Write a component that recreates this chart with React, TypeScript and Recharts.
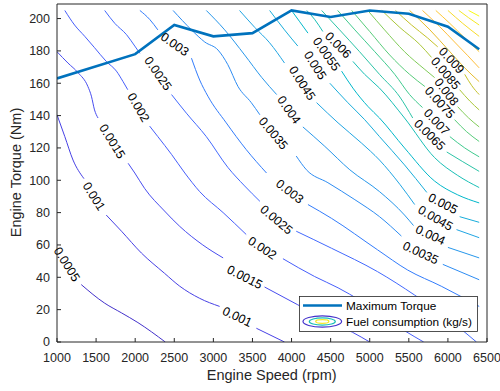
import React from 'react'
import { LineChart, Line, XAxis, YAxis, ReferenceDot } from 'recharts'

const FONT = "'Liberation Sans', Arial, Helvetica, sans-serif"
const INK = '#262626'

const speedTicks = [1000, 1500, 2000, 2500, 3000, 3500, 4000, 4500, 5000, 5500, 6000, 6500]
const torqueTicks = [0, 20, 40, 60, 80, 100, 120, 140, 160, 180, 200]

const maxTorqueRpm = [1000, 2000, 2500, 3000, 3500, 4000, 4500, 5000, 5500, 6000, 6400]
const maxTorqueNm = [163, 178, 196, 189, 191, 205, 201, 205, 203, 195, 181]

// fuel consumption contours [rpm, Nm], split where the inline labels sit
const c0005 = [
  [[1310, 35.5], [1610, 24], [1825, 18], [2035, 12], [2385, 0]],
]
const c0010 = [
  [[1000, 140.5], [1100, 127], [1205, 112.5], [1345, 101]],
  [[1630, 78.5], [1825, 68.5], [2080, 55], [2375, 42.5], [2570, 34.5], [2825, 27], [3080, 22]],
  [[3550, 8.5], [3910, 0]],
]
const c0015 = [
  [[1000, 179.5], [1140, 172.5], [1270, 166.5], [1395, 158], [1440, 152], [1480, 143.5], [1525, 138.5]],
  [[1910, 110.5], [1995, 104.5], [2120, 95], [2375, 81], [2570, 71.5], [2865, 60], [3125, 52]],
  [[3655, 34], [4080, 23], [4425, 14], [4780, 6], [5000, 0]],
]
const c0020 = [
  [[1100, 205], [1225, 196], [1355, 189], [1480, 182], [1630, 173.5], [1760, 167.5], [1845, 161], [1905, 156]],
  [[2185, 133.5], [2290, 127], [2465, 116], [2635, 104.5], [2825, 93], [3125, 80], [3420, 66.5]],
  [[3890, 51.5], [4295, 40.5], [4595, 33.5], [4885, 25.5], [5445, 7], [5690, 0]],
]
const c0025 = [
  [[1610, 205], [1740, 197], [1890, 190], [1995, 183], [2060, 178.5]],
  [[2465, 153], [2655, 141.5], [2910, 127], [3185, 108], [3400, 96.5], [3595, 87]],
  [[4060, 68.5], [4510, 58], [5100, 43.5], [5575, 29], [5985, 15], [6365, 0]],
]
const c0030 = [
  [[2060, 205], [2185, 199.5], [2290, 193]],
  [[2720, 175.5], [2825, 162], [2930, 152], [3165, 135.5], [3420, 119], [3680, 104.5]],
  [[4210, 85], [4510, 76.5], [5100, 57], [5485, 44.5], [5915, 34.5], [6400, 22]],
]
const c0035 = [
  [[2485, 205], [2720, 193], [2890, 185.5], [3060, 180.5], [3185, 171.5], [3315, 158], [3485, 148], [3595, 140.5]],
  [[4060, 115], [4190, 106.5], [4465, 98.5], [4810, 88], [5125, 77.5], [5405, 65.5]],
  [[5935, 48], [6400, 38.5]],
]
const c0040 = [
  [[2910, 205], [3145, 193], [3400, 177.5], [3620, 163.5], [3810, 153]],
  [[4145, 133], [4425, 121], [4745, 106.5], [5125, 93], [5445, 78.5], [5560, 72]],
  [[6000, 58.5], [6400, 52]],
]
const c0045 = [
  [[3335, 205], [3530, 194.5], [3720, 185], [3910, 172.5]],
  [[4320, 148], [4595, 135.5], [4895, 123], [5125, 112.5], [5385, 97.5], [5575, 85]],
  [[6110, 69.5], [6400, 64.5]],
]
const c0050 = [
  [[3720, 205], [3910, 193], [4080, 183]],
  [[4490, 160], [4720, 148], [4935, 137.5], [5125, 127], [5445, 109.5], [5730, 92.5]],
  [[6150, 77.5], [6400, 74]],
]
const c0055 = [
  [[4000, 205], [4105, 198], [4210, 191]],
  [[4640, 167.5], [4785, 157], [4980, 145.5], [5125, 138.5], [5445, 120], [5830, 99.5], [6125, 91], [6400, 86]],
]
const c0060 = [
  [[4195, 205], [4295, 199.5], [4400, 192]],
  [[4785, 173.5], [4935, 165.5], [5125, 157], [5445, 138.5], [5830, 114], [6125, 103], [6400, 95.5]],
]
const c0065 = [
  [[4385, 205], [4615, 193], [4870, 179.5], [5125, 165.5], [5385, 151.5], [5550, 138.5]],
  [[5985, 117.5], [6190, 111.5], [6400, 105.5]],
]
const c0070 = [
  [[4590, 205], [4810, 193], [5065, 179.5], [5320, 165.5], [5510, 153], [5675, 145]],
  [[6025, 127], [6215, 120], [6400, 114.5]],
]
const c0075 = [
  [[4770, 205], [5000, 192], [5255, 177.5], [5510, 165.5], [5705, 158]],
  [[6085, 137.5], [6240, 130], [6400, 124]],
]
const c0080 = [
  [[4975, 205], [5190, 193], [5445, 179.5], [5705, 168.5], [5830, 163.5]],
  [[6125, 145.5], [6265, 138.5], [6400, 133]],
]
const c0085 = [
  [[5155, 205], [5385, 194.5], [5640, 184], [5790, 176]],
  [[6150, 156], [6280, 149], [6400, 143.5]],
]
const c0090 = [
  [[5330, 205], [5535, 196], [5740, 188], [5870, 182.5]],
  [[6215, 165.5], [6305, 158.5], [6400, 153]],
]
const c0095 = [[[5510, 205], [5770, 193], [6025, 179.5], [6215, 169.5], [6400, 161]]]
const c0100 = [[[5675, 205], [5895, 195], [6085, 185.5], [6255, 177], [6400, 169.5]]]
const c0105 = [[[5845, 205], [6025, 197], [6215, 188], [6400, 179.5]]]
const c0110 = [[[6000, 205], [6190, 197], [6400, 189]]]
const c0115 = [[[6140, 205], [6265, 200.5], [6400, 196]]]
const c0120 = [[[6265, 205], [6400, 201.5]]]

const contours = [
  c0005, c0010, c0015, c0020, c0025, c0030, c0035, c0040, c0045, c0050, c0055, c0060,
  c0065, c0070, c0075, c0080, c0085, c0090, c0095, c0100, c0105, c0110, c0115, c0120,
]

// parula-ish colour per level
const levelColors = [
  '#4332cb', '#4741e5', '#484df0', '#465efb', '#4269fe', '#327cfc', '#2d8cf3', '#2797eb',
  '#20a5e3', '#18addb', '#01b8ca', '#19bfb6', '#2cc4a7', '#3fca8e', '#57cc7a', '#81cc59',
  '#abc739', '#c5c22a', '#e6bb2d', '#febe3c', '#fec934', '#f7dc2a', '#f5e924', '#f9fb15',
]

// inline contour labels: text, rpm, Nm
const contourLabels: [string, number, number][] = [
  ['0.0005', 1125, 48],
  ['0.001', 1470, 90], ['0.001', 3305, 15.5],
  ['0.0015', 1705, 124], ['0.0015', 3400, 40],
  ['0.002', 2040, 145], ['0.002', 3625, 58],
  ['0.0025', 2290, 166], ['0.0025', 3805, 75.5],
  ['0.003', 2505, 184], ['0.003', 3975, 93],
  ['0.0035', 3765, 129], ['0.0035', 5650, 55],
  ['0.004', 3965, 143.5], ['0.004', 5775, 66],
  ['0.0045', 4135, 160], ['0.0045', 5840, 76.5],
  ['0.005', 4300, 171], ['0.005', 5935, 85.5],
  ['0.0055', 4445, 178],
  ['0.006', 4595, 183.5],
  ['0.0065', 5765, 128],
  ['0.007', 5855, 136],
  ['0.0075', 5895, 148],
  ['0.008', 5980, 154.5],
  ['0.0085', 5970, 166],
  ['0.009', 6045, 174],
]
const labelAngles = [58, 58, 25, 58, 27, 60, 33, 55, 40, 35, 38, 50, 25, 55, 25, 57, 30, 58, 27, 55, 45, 45, 47, 48, 52, 50, 47]

const maxTorque = maxTorqueRpm.map((rpm, i) => ({ rpm, nm: maxTorqueNm[i] }))

const axisTick = { fontSize: 12.5, fill: INK, fontFamily: FONT }

export default function App() {
  return (
    <div style={{ position: 'absolute', left: 0, top: 0, width: 500, height: 391, background: '#fff' }}>
      <LineChart width={500} height={391} margin={{ top: 3, right: 12, bottom: 9, left: 0 }}>
        <XAxis xAxisId="b" type="number" dataKey="rpm" domain={[1000, 6500]} ticks={speedTicks}
          allowDataOverflow interval={0} height={40} tickSize={-4} tickMargin={15}
          tick={axisTick} axisLine={{ stroke: INK }} tickLine={{ stroke: INK }} />
        <XAxis xAxisId="t" orientation="top" type="number" dataKey="rpm" domain={[1000, 6500]} ticks={speedTicks}
          allowDataOverflow interval={0} height={1} tickSize={-4} tick={false}
          axisLine={{ stroke: INK }} tickLine={{ stroke: INK }} />
        <YAxis yAxisId="l" type="number" domain={[0, 209]} ticks={torqueTicks}
          allowDataOverflow interval={0} width={57} tickSize={-4} tickMargin={11}
          tick={axisTick} axisLine={{ stroke: INK }} tickLine={{ stroke: INK }} />
        <YAxis yAxisId="r" orientation="right" type="number" domain={[0, 209]} ticks={torqueTicks}
          allowDataOverflow interval={0} width={1} tickSize={-4} tick={false}
          axisLine={{ stroke: INK }} tickLine={{ stroke: INK }} />

        {contours.flatMap((pieces, i) =>
          pieces.map((piece, j) => (
            <Line key={`c${i}-${j}`} xAxisId="b" yAxisId="l" type="monotone"
              data={piece.map(([rpm, nm]) => ({ rpm, nm }))} dataKey="nm"
              stroke={levelColors[i]} strokeWidth={1} dot={false} activeDot={false}
              isAnimationActive={false} />
          ))
        )}

        <Line xAxisId="b" yAxisId="l" type="linear" data={maxTorque} dataKey="nm"
          stroke="#0072bd" strokeWidth={2.6} dot={false} activeDot={false} isAnimationActive={false} />

        {contourLabels.map(([txt, rpm, nm], k) => (
          <ReferenceDot key={`l${k}`} xAxisId="b" yAxisId="l" x={rpm} y={nm} r={0}
            shape={(p: any) => (
              <text x={p.cx} y={p.cy} transform={`rotate(${labelAngles[k]} ${p.cx} ${p.cy})`}
                textAnchor="middle" dominantBaseline="central" fontSize={12.4}
                fontFamily={FONT} fill="#000">{txt}</text>
            )} />
        ))}
      </LineChart>

      <svg width={500} height={391} style={{ position: 'absolute', left: 0, top: 0, pointerEvents: 'none' }}
        fontFamily={FONT}>
        <text x={271.7} y={380} textAnchor="middle" fontSize={14.5} fill={INK}>Engine Speed (rpm)</text>
        <text x={20.5} y={172.5} textAnchor="middle" fontSize={14.5} fill={INK}
          transform="rotate(-90 20.5 172.5)">Engine Torque (Nm)</text>

        <rect x={299.5} y={296.5} width={178} height={35} fill="#fff" stroke={INK} strokeWidth={0.8} />
        <line x1={303} x2={342} y1={305.5} y2={305.5} stroke="#0072bd" strokeWidth={2.6} />
        <text x={346} y={306} dominantBaseline="central" fontSize={11.8} fill="#000">Maximum Torque</text>
        <ellipse cx={322.3} cy={321.5} rx={19.3} ry={5.6} fill="none" stroke="#4332cb" strokeWidth={1.2} />
        <ellipse cx={322.3} cy={321.5} rx={13} ry={3.6} fill="none" stroke="#19bfb6" strokeWidth={1.2} />
        <ellipse cx={322.3} cy={321.5} rx={6.6} ry={1.8} fill="none" stroke="#f5e924" strokeWidth={1.2} />
        <text x={346} y={322} dominantBaseline="central" fontSize={11.8} fill="#000">Fuel consumption (kg/s)</text>
      </svg>
    </div>
  )
}
